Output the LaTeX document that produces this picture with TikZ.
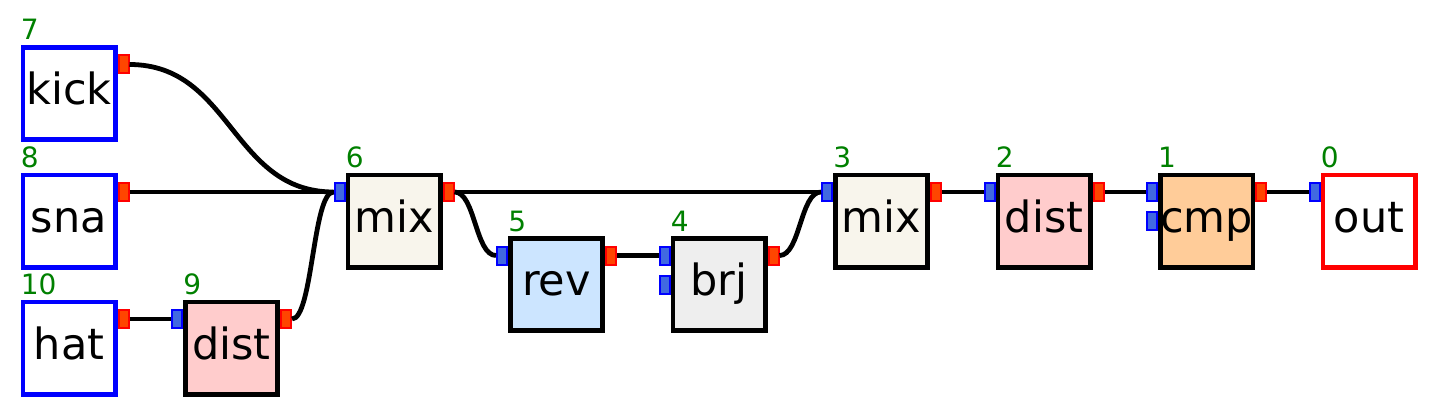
\documentclass[tikz,border=0pt]{standalone}
\usepackage{fontspec}
\setmainfont{DejaVu Sans}
\usepackage{xcolor}
\usetikzlibrary{positioning,calc}
\definecolor{portred}{RGB}{255,69,0}
\definecolor{portblue}{RGB}{65,105,225}
\definecolor{mixfill}{RGB}{248,245,236}
\definecolor{distfill}{RGB}{255,204,204}
\definecolor{revfill}{RGB}{204,229,255}
\definecolor{brjfill}{RGB}{238,238,238}
\definecolor{cmpfill}{RGB}{255,204,153}
\definecolor{numgreen}{RGB}{0,128,0}
\tikzset{ugen/.style={rectangle,draw=black,line width=2.4pt,minimum size=46.1pt,inner sep=0pt,text height=11pt,text depth=0pt,font=\fontsize{21.5}{24}\selectfont}}
\tikzset{src node/.style={ugen,draw=blue,fill=white}}
\tikzset{out node/.style={ugen,draw=red,fill=white}}
\tikzset{outport/.style={rectangle,draw=red,fill=portred,line width=1pt,minimum width=5pt,minimum height=9pt,inner sep=0pt,anchor=west}}
\tikzset{inport/.style={rectangle,draw=blue,fill=portblue,line width=1pt,minimum width=5pt,minimum height=9pt,inner sep=0pt,anchor=east}}
\tikzset{num/.style={text=numgreen,inner sep=0pt,anchor=base west,font=\fontsize{14}{16}\selectfont}}
\tikzset{wire/.style={line width=2.4pt,black}}
\tikzset{bus/.style={to path={let \p1=(\tikztostart), \p2=(\tikztotarget) in .. controls ({(\x1+\x2)/2},\y1) and ({(\x1+\x2)/2},\y2) .. (\tikztotarget) \tikztonodes}}}

\begin{document}
\begin{tikzpicture}[on grid]
      \useasboundingbox (0,0) rectangle (720pt,-208.5pt);
      \node[src node] (kick) at (34.5pt,-46.75pt) {kick};
      \node[src node] (sna) [below=63.75pt of kick] {sna};
      \node[src node] (hat) [below=63.5pt of sna] {hat};
      \node[ugen,fill=distfill] (dist9) [right=81.25pt of hat] {dist};
      \node[ugen,fill=mixfill] (mix6) [right=162.5pt of sna] {mix};
      \node[ugen,fill=revfill] (rev5) [below right=31.75pt and 81.25pt of mix6] {rev};
      \node[ugen,fill=brjfill] (brj4) [right=81.25pt of rev5] {brj};
      \node[ugen,fill=mixfill] (mix3) [right=243.75pt of mix6] {mix};
      \node[ugen,fill=distfill] (dist2) [right=81.25pt of mix3] {dist};
      \node[ugen,fill=cmpfill] (cmp1) [right=81.25pt of dist2] {cmp};
      \node[out node] (out0) [right=81.25pt of cmp1] {out};
      % numbers
      \foreach \n/\t in {kick/7,sna/8,hat/10,dist9/9,mix6/6,rev5/5,brj4/4,mix3/3,dist2/2,cmp1/1,out0/0}
        \node[num] (n\t) at ([yshift=2.5pt]\n.north west) {\t};
      % ports
      \foreach \n in {kick,sna,hat,dist9,mix6,rev5,brj4,mix3,dist2,cmp1}
        \node[outport] (\n-o) at ([yshift=14.5pt]\n.east) {};
      \foreach \n in {dist9,mix6,rev5,mix3,dist2,out0}
        \node[inport] (\n-i) at ([yshift=14.5pt]\n.west) {};
      \node[inport] (brj4-i1) at ([yshift=14.5pt]brj4.west) {};
      \node[inport] (brj4-i2) at (brj4.west) {};
      \node[inport] (cmp1-i1) at ([yshift=14.5pt]cmp1.west) {};
      \node[inport] (cmp1-i2) at (cmp1.west) {};
      % wires
      \draw[wire] (kick-o) to[bus] (mix6-i);
      \draw[wire] (sna-o) -- (mix6-i);
      \draw[wire] (hat-o) -- (dist9-i);
      \draw[wire] (dist9-o) to[bus] (mix6-i);
      \draw[wire] (mix6-o) to[bus] (rev5-i);
      \draw[wire] (mix6-o) -- (mix3-i);
      \draw[wire] (rev5-o) -- (brj4-i1);
      \draw[wire] (brj4-o) to[bus] (mix3-i);
      \draw[wire] (mix3-o) -- (dist2-i);
      \draw[wire] (dist2-o) -- (cmp1-i1);
      \draw[wire] (cmp1-o) -- (out0-i);
    \end{tikzpicture}
\end{document}
